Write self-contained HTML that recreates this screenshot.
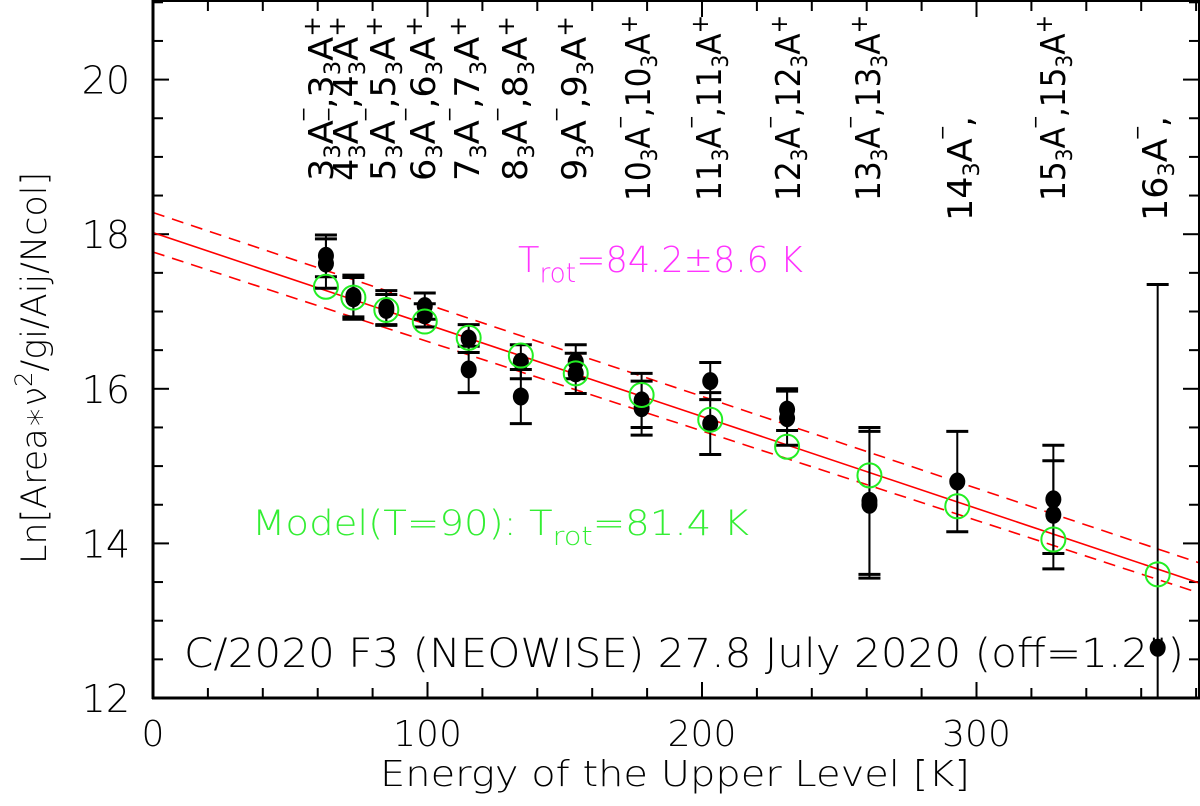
<!DOCTYPE html>
<html><head><meta charset="utf-8"><style>
html,body{margin:0;padding:0;background:#fff;width:1200px;height:806px;overflow:hidden;}
svg{display:block;font-family:"DejaVu Sans","Liberation Sans",sans-serif;}
</style></head><body>
<svg id="chart" width="1200" height="806" viewBox="0 0 1200 806" xmlns="http://www.w3.org/2000/svg">
<defs><clipPath id="pc"><rect x="153" y="0" width="1047" height="698"/></clipPath></defs>
<g id="ticks"></g>
<g id="fit" clip-path="url(#pc)"></g>
<g id="pts" clip-path="url(#pc)"></g>
<g id="model"></g>
<g id="labels"></g>
<rect x="153" y="1" width="1046" height="697" fill="none" stroke="#000" stroke-width="2"/>
<line x1="152" y1="698" x2="1200" y2="698" stroke="#000" stroke-width="3"/>
<line x1="153" y1="0" x2="153" y2="699" stroke="#000" stroke-width="3"/>
<text x="518" y="272" fill="#ff33ff" font-size="36" font-weight="200" textLength="285" lengthAdjust="spacingAndGlyphs">T<tspan font-size="27" dy="10">rot</tspan><tspan dy="-10">=84.2±8.6 K</tspan></text>
<text x="252" y="535" fill="#33ee33" font-size="35" font-weight="200" textLength="497" lengthAdjust="spacingAndGlyphs">Model(T=90): T<tspan font-size="26" dy="10">rot</tspan><tspan dy="-10">=81.4 K</tspan></text>
<text x="184" y="667" fill="#000" font-size="40" font-weight="200" textLength="1000" lengthAdjust="spacingAndGlyphs">C/2020 F3 (NEOWISE) 27.8 July 2020 (off=1.2")</text>
<text x="675" y="786" text-anchor="middle" font-size="36" font-weight="200" textLength="590" lengthAdjust="spacingAndGlyphs">Energy of the Upper Level [K]</text>
<text transform="translate(46,368) rotate(-90)" text-anchor="middle" font-size="35" font-weight="200">Ln[Area∗ν<tspan font-size="24" dy="-14">2</tspan><tspan dy="14">/gi/Aij/Ncol]</tspan></text>
</svg>
<script>
const xTicks=[0,100,200,300];
const yTicks=[12,14,16,18,20];
const energies=[63,73,85,99,115,134,154,178,203,231,261,293,328,366];
const obsA=[17.72,17.2,17.05,17.07,16.65,16.35,16.35,15.85,16.1,15.73,14.55,14.8,14.57,12.65];
const obsB=[17.62,17.17,17.02,16.95,16.25,15.9,16.2,15.75,15.55,15.62,14.5,null,14.37,null];
const errA=[0.27,0.27,0.22,0.17,0.18,0.22,0.22,0.35,0.24,0.27,0.95,0.65,0.7,4.7];
const errB=[0.32,0.27,0.2,0.15,0.3,0.35,0.26,0.35,0.4,0.35,0.95,null,0.7,null];
const modelVals=[17.32,17.18,17.02,16.87,16.66,16.43,16.2,15.92,15.6,15.25,14.88,14.48,14.05,13.6];
const fitLine=[18.02,13.49];
const fitUpper=[18.28,13.75];
const fitLower=[17.77,13.36];
const labelsMain=["3","4","5","6","7","8","9","10","11","12","13","14","15","16"];
const labelsHasPlus=[true,true,true,true,true,true,true,true,true,true,true,false,true,false];
const labelX=[321,346,383,423,467,515,574,638,709,788,868,960,1053,1155];

const X0=153,XS=2.745,Y0=698,YS=77.3;
const xs=e=>X0+e*XS, ys=v=>Y0-(v-12)*YS;
const NS="http://www.w3.org/2000/svg";
function mk(tag,attrs,parent){const el=document.createElementNS(NS,tag);for(const k in attrs)el.setAttribute(k,attrs[k]);parent.appendChild(el);return el;}
const tk=document.getElementById('ticks');
for(let e=0;e<=380;e+=20){const x=xs(e);const L=e%100===0?16:10;
 let t=mk('line',{x1:x,y1:698,x2:x,y2:698-L,stroke:'#000','stroke-width':2},tk);
 
 
 t=mk('line',{x1:x,y1:1,x2:x,y2:1+L,stroke:'#000','stroke-width':2},tk);
 
 }
for(let v=12;v<=21;v+=0.5){const y=ys(v);const L=Math.abs(v%2)<1e-6?16:10;
 let t=mk('line',{x1:153,y1:y,x2:153+L,y2:y,stroke:'#000','stroke-width':2},tk);
 
 
 t=mk('line',{x1:1199,y1:y,x2:1199-L,y2:y,stroke:'#000','stroke-width':2},tk);
 
 }
xTicks.forEach(v=>{const t=mk('text',{x:xs(v),y:746,'text-anchor':'middle','font-size':36,'font-weight':200},tk);t.textContent=v;
 
 });
yTicks.forEach(v=>{const t=mk('text',{x:130,y:ys(v)+14,'text-anchor':'end','font-size':38,'font-weight':200},tk);t.textContent=v;
 
 });
const fit=document.getElementById('fit');
const E1=381;
let ln=mk('line',{x1:xs(0),y1:ys(fitLine[0]),x2:xs(E1),y2:ys(fitLine[1]),stroke:'#ff0000','stroke-width':1.6},fit);


[fitUpper,fitLower].forEach((f,i)=>{const l=mk('line',{x1:xs(0),y1:ys(f[0]),x2:xs(E1),y2:ys(f[1]),stroke:'#ff0000','stroke-width':1.6,'stroke-dasharray':'12,8'},fit);
 
 });
const pts=document.getElementById('pts');
function point(e,v,err){const x=xs(e),y=ys(v);
 const yt=Math.max(ys(v+err),0), ybRaw=ys(v-err), yb=Math.min(ybRaw,698);
 const g=mk('g',{},pts);
 
 
 mk('line',{x1:x,y1:yt,x2:x,y2:yb,stroke:'#000','stroke-width':2},g);
 mk('line',{x1:x-11,y1:yt,x2:x+11,y2:yt,stroke:'#000','stroke-width':3},g);
 if(ybRaw<=698) mk('line',{x1:x-11,y1:yb,x2:x+11,y2:yb,stroke:'#000','stroke-width':3},g);
 mk('ellipse',{cx:x,cy:y,rx:8,ry:9,fill:'#000'},g);}
energies.forEach((e,i)=>{point(e,obsA[i],errA[i]);if(obsB[i]!==null)point(e,obsB[i],errB[i]);});
const md=document.getElementById('model');
energies.forEach((e,i)=>{const c=mk('ellipse',{cx:xs(e),cy:ys(modelVals[i]),rx:12,ry:12,fill:'none',stroke:'#22ee22','stroke-width':2},md);
 
 });
const lb=document.getElementById('labels');
labelsMain.forEach((n,i)=>{const two=n.length>1;const plus=labelsHasPlus[i];
 const x=labelX[i]+12, y=plus?(two?201:181):221;
 const len=plus?(two?186:165):(220-115);
 const t=mk('text',{transform:`translate(${x},${y}) rotate(-90)`,'font-size':34,fill:'#000','font-weight':500,textLength:len,lengthAdjust:'spacingAndGlyphs'},lb);
 
 
 let s=`<tspan>${n}</tspan><tspan font-size="22" dy="7">3</tspan><tspan dy="-7">A</tspan><tspan font-size="22" dy="-13">‾</tspan><tspan dy="13">,</tspan>`;
 if(plus) s+=`<tspan>${n}</tspan><tspan font-size="22" dy="7">3</tspan><tspan dy="-7">A</tspan><tspan font-size="24" dy="-13">+</tspan>`;
 t.innerHTML=s;});
</script>
</body></html>
